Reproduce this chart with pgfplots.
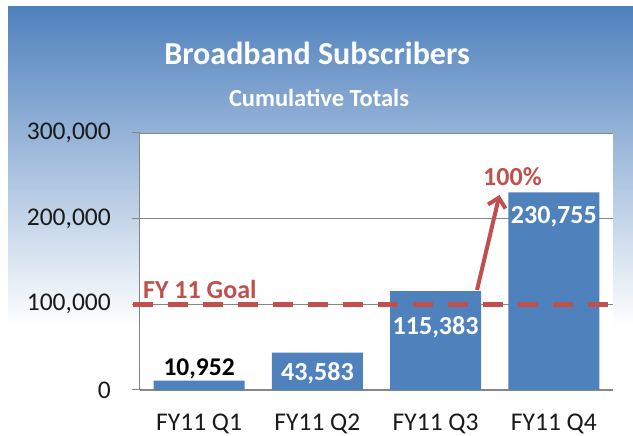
\documentclass[border=0pt]{standalone}
\usepackage{fontspec}
\setmainfont{Carlito}
\usepackage{pgfplots}
\pgfplotsset{compat=1.18}
\usetikzlibrary{arrows.meta}
\definecolor{bblue}{HTML}{4F81BD}
\definecolor{bred}{HTML}{C0504D}
\definecolor{gridgray}{HTML}{868686}
\definecolor{ticktext}{HTML}{1A1A1A}
\begin{document}
\begin{tikzpicture}[x=1pt,y=1pt]
\useasboundingbox (0,0) rectangle (633,436);
\fill[white] (0,0) rectangle (633,436);
\fill[top color=bblue, bottom color=white] (8,110) rectangle (633,429);
\node[white, font=\fontsize{32}{36}\selectfont\bfseries, anchor=base, inner sep=0pt] at (317,371) {Broadband Subscribers};
\node[white, font=\fontsize{24.5}{28}\selectfont\bfseries, anchor=base, inner sep=0pt] at (319,329) {Cumulative Totals};
\begin{axis}[
  at={(140pt,46pt)}, anchor=south west,
  scale only axis, width=473pt, height=257pt,
  xmin=-0.5, xmax=3.5, ymin=0, ymax=300000,
  clip=false,
  axis background/.style={fill=white},
  axis x line*=bottom, axis y line*=left,
  axis line style={gridgray, line width=1pt, -},
  ytick={0,100000,200000,300000},
  yticklabels={0,{100,000},{200,000},{300,000}},
  ymajorgrids, grid style={gridgray, line width=0.8pt},
  scaled y ticks=false,
  tick label style={font=\fontsize{25.5}{28}\selectfont, text=ticktext},
  tick align=outside,
  major tick length=8pt,
  tick style={gridgray, line width=1pt},
  xtick={0,1,2,3},
  xticklabels={FY11 Q1,FY11 Q2,FY11 Q3,FY11 Q4},
  x tick style={draw=none},
  extra x ticks={-0.5,0.5,1.5,2.5,3.5},
  extra x tick labels={},
  extra x tick style={tick style={gridgray, line width=1pt, draw=gridgray}, major tick length=7pt},
  xticklabel style={inner sep=0pt, anchor=base, yshift=-33pt},
  yticklabel style={inner sep=0pt, anchor=east, xshift=-21pt},
]
\addplot[ybar, bar width=0.77, fill=bblue, draw=none] coordinates {(0,10952) (1,43583) (2,115383) (3,230755)};
\addplot[bred, line width=5pt, dash pattern=on 20pt off 15pt] coordinates {(-0.56,100000) (3.56,100000)};
\draw[bred, line width=4pt, -{Straight Barb[length=9pt,width=18pt]}] (axis cs:2.35,116700) -- (axis cs:2.54,227600);
\node[bred, font=\fontsize{26}{30}\selectfont\bfseries] at (axis cs:2.65,248600) {100\%};
\node[bred, font=\fontsize{26}{30}\selectfont\bfseries, anchor=west, inner sep=0pt] at (axis cs:-0.475,117500) {FY 11 Goal};
\node[black, font=\fontsize{25.5}{30}\selectfont\bfseries] at (axis cs:0,24500) {10,952};
\node[white, font=\fontsize{26}{30}\selectfont\bfseries] at (axis cs:1,19800) {43,583};
\node[white, font=\fontsize{26}{30}\selectfont\bfseries] at (axis cs:2,73500) {115,383};
\node[white, font=\fontsize{26}{30}\selectfont\bfseries] at (axis cs:3,202000) {230,755};
\end{axis}
\end{tikzpicture}
\end{document}
